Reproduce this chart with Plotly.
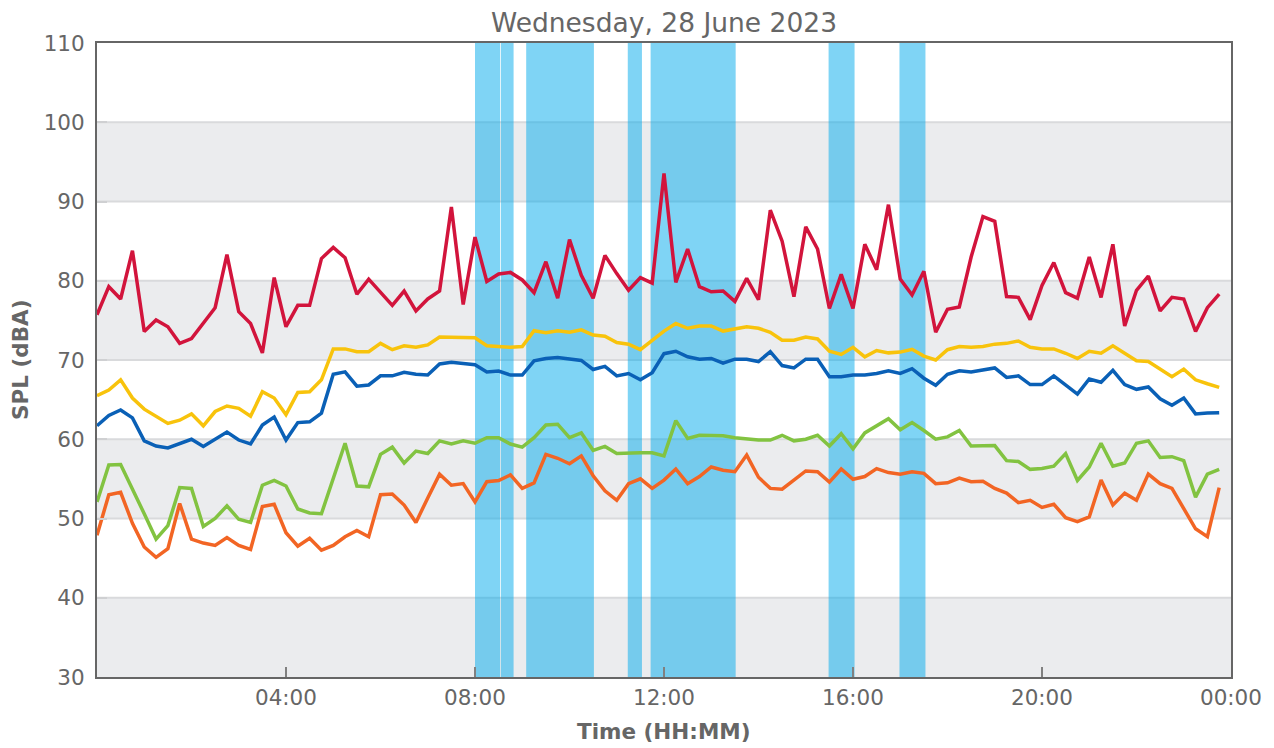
import pandas as pd
import plotly.graph_objects as go

# ---------------- data ----------------
day = "2023-06-28"
title_text = "Wednesday, 28 June 2023"
n_points = 96  # 15-minute intervals
times = pd.date_range(f"{day} 00:00", periods=n_points, freq="15min")

red = [75.7, 79.25, 77.7, 83.8, 73.6, 75.05, 74.2, 72.1, 72.7, 74.6, 76.6, 83.3, 76.1, 74.6, 70.9, 80.4,
       74.2, 76.9, 76.9, 82.8, 84.2, 82.9, 78.3, 80.2, 78.6, 76.9, 78.7, 76.2, 77.7, 78.7, 89.3, 77.0,
       85.5, 79.9, 80.85, 81.05, 80.1, 78.5, 82.4, 77.8, 85.2, 80.7, 77.8, 83.2, 80.9, 78.8, 80.4, 79.7,
       93.55, 79.8, 84.0, 79.25, 78.6, 78.7, 77.4, 80.3, 77.6, 88.9, 85.0, 78.0, 86.8, 84.0, 76.5, 80.8,
       76.5, 84.6, 81.4, 89.6, 80.2, 78.2, 81.2, 73.5, 76.4, 76.7, 83.0, 88.1, 87.5, 78.0, 77.9, 75.1,
       79.4, 82.3, 78.5, 77.8, 83.0, 77.9, 84.6, 74.3, 78.8, 80.6, 76.2, 77.9, 77.7, 73.6, 76.6, 78.3]

yellow = [65.5, 66.2, 67.5, 65.2, 63.8, 62.9, 62.0, 62.4, 63.2, 61.7, 63.5, 64.2, 63.9, 62.9, 66.0, 65.2,
          63.1, 65.9, 66.0, 67.5, 71.4, 71.4, 71.05, 71.05, 72.1, 71.3, 71.8, 71.6, 71.9, 72.9, 72.9, 72.8,
          72.8, 71.8, 71.7, 71.6, 71.7, 73.7, 73.45, 73.7, 73.5, 73.8, 73.15, 73.0, 72.2, 72.0, 71.3, 72.5,
          73.65, 74.6, 74.0, 74.3, 74.3, 73.65, 73.9, 74.2, 74.0, 73.5, 72.5, 72.5, 72.9, 72.65, 71.1, 70.7,
          71.6, 70.4, 71.2, 70.9, 71.0, 71.35, 70.5, 70.0, 71.3, 71.7, 71.6, 71.7, 72.0, 72.1, 72.4, 71.6,
          71.4, 71.4, 70.85, 70.2, 71.1, 70.85, 71.8, 70.85, 69.9, 69.8, 68.8, 67.9, 68.85, 67.5, 67.0, 66.55]

blue = [61.7, 63.0, 63.7, 62.7, 59.8, 59.15, 58.9, 59.5, 60.0, 59.1, 60.0, 60.9, 59.9, 59.4, 61.8, 62.8,
        59.9, 62.1, 62.2, 63.3, 68.2, 68.5, 66.7, 66.85, 68.0, 68.0, 68.45, 68.2, 68.1, 69.5, 69.7, 69.5,
        69.4, 68.5, 68.6, 68.1, 68.1, 69.9, 70.2, 70.3, 70.1, 69.95, 68.8, 69.2, 68.0, 68.3, 67.5, 68.4,
        70.8, 71.1, 70.4, 70.1, 70.2, 69.6, 70.1, 70.1, 69.8, 71.05, 69.3, 69.0, 70.1, 70.1, 67.9, 67.9,
        68.1, 68.1, 68.3, 68.65, 68.3, 68.9, 67.7, 66.8, 68.2, 68.65, 68.5, 68.7, 69.0, 67.8, 68.0, 66.9,
        66.9, 68.0, 66.85, 65.7, 67.6, 67.2, 68.7, 66.9, 66.3, 66.6, 65.1, 64.3, 65.2, 63.2, 63.3, 63.35]

green = [52.1, 56.75, 56.8, 53.8, 50.6, 47.4, 49.1, 53.9, 53.8, 49.0, 50.0, 51.6, 49.9, 49.5, 54.2, 54.8,
         54.1, 51.2, 50.7, 50.6, 55.0, 59.5, 54.1, 54.0, 58.1, 59.0, 57.0, 58.5, 58.2, 59.8, 59.4, 59.8,
         59.5, 60.2, 60.2, 59.4, 59.0, 60.2, 61.8, 61.9, 60.2, 60.8, 58.6, 59.1, 58.2, 58.3, 58.3, 58.3,
         57.9, 62.35, 60.1, 60.5, 60.5, 60.45, 60.2, 60.0, 59.9, 59.9, 60.5, 59.8, 60.0, 60.5, 59.15, 60.7,
         58.8, 60.8, 61.7, 62.6, 61.2, 62.1, 61.1, 60.0, 60.3, 61.1, 59.15, 59.2, 59.2, 57.3, 57.2, 56.2,
         56.3, 56.6, 58.2, 54.8, 56.5, 59.5, 56.6, 57.0, 59.5, 59.8, 57.7, 57.8, 57.3, 52.7, 55.6, 56.2]

orange = [47.9, 53.0, 53.3, 49.4, 46.4, 45.1, 46.2, 51.9, 47.4, 46.9, 46.6, 47.6, 46.6, 46.1, 51.5, 51.8,
          48.2, 46.5, 47.5, 46.0, 46.6, 47.7, 48.5, 47.7, 53.0, 53.1, 51.7, 49.5, 52.6, 55.6, 54.2, 54.4,
          52.1, 54.65, 54.8, 55.5, 53.8, 54.5, 58.1, 57.6, 56.9, 57.9, 55.4, 53.5, 52.3, 54.4, 55.0, 53.8,
          54.85, 56.25, 54.4, 55.3, 56.5, 56.1, 55.9, 58.0, 55.2, 53.8, 53.7, 54.85, 56.0, 55.9, 54.6, 56.25,
          54.95, 55.3, 56.3, 55.8, 55.6, 55.9, 55.7, 54.4, 54.5, 55.1, 54.65, 54.7, 53.8, 53.2, 52.0, 52.3,
          51.4, 51.8, 50.1, 49.6, 50.2, 54.85, 51.7, 53.2, 52.3, 55.6, 54.4, 53.8, 51.3, 48.7, 47.7, 53.9]

# highlighted periods (start, end)
span_starts = ["08:00", "08:33", "09:05", "11:14", "11:43", "15:29", "16:59"]
span_ends = ["08:32", "08:49", "10:31", "11:32", "13:31", "16:02", "17:32"]

tick_vals = ["2023-06-28 04:00", "2023-06-28 08:00", "2023-06-28 12:00",
             "2023-06-28 16:00", "2023-06-28 20:00", "2023-06-29 00:00"]
tick_text = ["04:00", "08:00", "12:00", "16:00", "20:00", "00:00"]
y_ticks = [30, 40, 50, 60, 70, 80, 90, 100, 110]
gray_bands = [(30, 40), (50, 60), (70, 80), (90, 100)]

# ---------------- style ----------------
series = [
    (red, "#d2143c"),
    (yellow, "#f8c30c"),
    (blue, "#0a60b6"),
    (green, "#82c341"),
    (orange, "#f26524"),
]
text_color = "#666666"
FONT = "DejaVu Sans"
# the page body has an 8px default margin; size the figure to compensate
W, H = 1266, 740

fig = go.Figure()
for vals, col in series:
    fig.add_trace(go.Scatter(x=times, y=vals, mode="lines",
                             line=dict(color=col, width=3.5), showlegend=False))

shapes = []
for y0, y1 in gray_bands:
    shapes.append(dict(type="rect", xref="x domain", x0=0, x1=1, yref="y", y0=y0, y1=y1,
                       fillcolor="#ebecee", line=dict(width=0), layer="below"))
for yv in y_ticks[1:-1]:
    shapes.append(dict(type="line", xref="x domain", x0=0, x1=1, yref="y", y0=yv, y1=yv,
                       line=dict(color="#d9dadc", width=2), layer="below"))
for s, e in zip(span_starts, span_ends):
    shapes.append(dict(type="rect", xref="x", x0=f"{day} {s}", x1=f"{day} {e}",
                       yref="y domain", y0=0, y1=1,
                       fillcolor="rgba(0,170,235,0.5)", line=dict(width=0), layer="below"))

fig.update_layout(
    width=W, height=H,
    margin=dict(l=89, r=43, t=35, b=71, autoexpand=False),
    paper_bgcolor="white", plot_bgcolor="white",
    font=dict(family=FONT, color=text_color, size=21),
    title=dict(text=title_text, x=0.5, xref="paper", xanchor="center",
               y=1 - 14.5 / H, yref="container", yanchor="middle",
               font=dict(size=26.5, color=text_color, family=FONT)),
    showlegend=False,
    shapes=shapes,
)

fig.update_xaxes(
    type="date", range=[f"{day} 00:00", "2023-06-29 00:00"],
    tickmode="array", tickvals=tick_vals, ticktext=tick_text,
    ticks="inside", ticklen=10, tickwidth=1.5, tickcolor="#808080",
    showgrid=False, zeroline=False, automargin=False,
    showline=True, linecolor="#666666", linewidth=2, mirror=True,
    tickfont=dict(size=21.5, color=text_color), ticklabelstandoff=0,
)
fig.update_yaxes(
    range=[30, 110], tickmode="array", tickvals=y_ticks,
    ticks="inside", ticklen=10, tickwidth=2, tickcolor="#cfd0d2",
    showgrid=False, zeroline=False, automargin=False,
    showline=True, linecolor="#666666", linewidth=2, mirror=True,
    tickfont=dict(size=21.5, color=text_color), ticklabelstandoff=6,
)

fig.add_annotation(text="<b>Time (HH:MM)</b>", xref="paper", yref="paper",
                   x=0.5, y=(677 - 731) / 634, xanchor="center", yanchor="middle",
                   showarrow=False, font=dict(size=21.5, color=text_color, family=FONT))
fig.add_annotation(text="<b>SPL (dBA)</b>", xref="paper", yref="paper",
                   x=(20 - 97) / 1134, y=0.5, xanchor="center", yanchor="middle",
                   textangle=-90, showarrow=False,
                   font=dict(size=21.5, color=text_color, family=FONT))

fig.write_html("out.html")
